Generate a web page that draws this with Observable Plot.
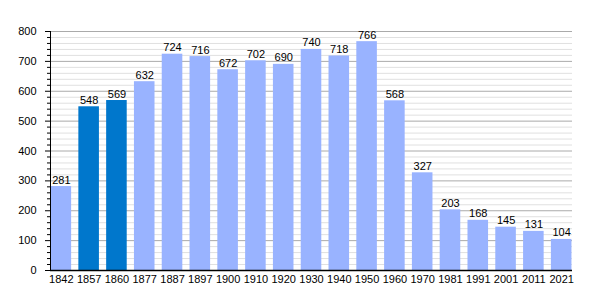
<!DOCTYPE html>
<html><head><meta charset="utf-8">
<script src="https://cdn.jsdelivr.net/npm/d3@7"></script>
<script src="https://cdn.jsdelivr.net/npm/@observablehq/plot@0.6"></script>
<style>body{margin:0;background:#fff;}</style>
</head><body><div id="chart"></div>
<script>
const years = ["1842","1857","1860","1877","1887","1897","1900","1910","1920","1930","1940","1950","1960","1970","1981","1991","2001","2011","2021"];
const population = [281,548,569,632,724,716,672,702,690,740,718,766,568,327,203,168,145,131,104];
const highlighted = ["1857","1860"];
const majorTicks = d3.range(0, 801, 100);
const minorTicks = d3.range(0, 801, 20).filter(v => v % 100 !== 0);

const data = years.map((y, i) => ({year: y, pop: population[i], hl: highlighted.includes(y)}));

const chart = Plot.plot({
  width: 600, height: 300,
  marginLeft: 50, marginRight: 28, marginTop: 31, marginBottom: 30,
  style: {fontFamily: "Liberation Sans, Arial, sans-serif", fontSize: "11px", color: "#000", background: "#fff"},
  x: {domain: years, paddingInner: 0.26, paddingOuter: 0.02, round: false, label: null},
  y: {domain: [0, 800], label: null},
  marks: [
    Plot.ruleY(minorTicks, {stroke: "#e0e0e0", strokeWidth: 1, strokeOpacity: 1}),
    Plot.ruleY(majorTicks, {stroke: "#aaaaaa", strokeWidth: 1, strokeOpacity: 1}),
    Plot.barY(data, {x: "year", y: "pop", fill: d => d.hl ? "#0077cc" : "#99b3ff"}),
    Plot.text(data, {x: "year", y: "pop", text: d => String(d.pop), lineAnchor: "bottom", dy: -3, fill: "#000", fontSize: 11}),
    Plot.axisY(minorTicks, {tickSize: 3, text: null, stroke: "#000"}),
    Plot.axisY(majorTicks, {tickSize: 5, tickPadding: 9, stroke: "#000", fill: "#000", fontSize: 11}),
    Plot.axisX({tickSize: 0, tickPadding: 5, fill: "#000", fontSize: 11}),
    Plot.frame({anchor: "left", stroke: "#000"}),
    Plot.ruleY([0], {stroke: "#000", strokeWidth: 1.5})
  ]
});
document.getElementById("chart").appendChild(chart);
</script></body></html>
